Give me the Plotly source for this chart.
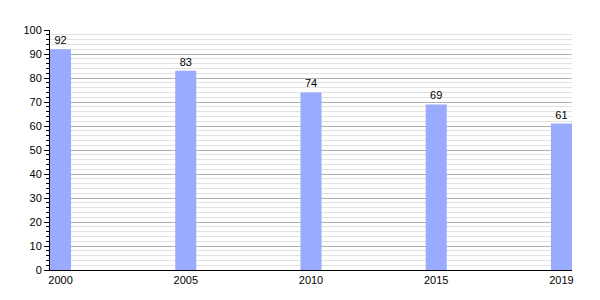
import plotly.graph_objects as go

years = ["2000", "2005", "2010", "2015", "2019"]
values = [92, 83, 74, 69, 61]

fig = go.Figure()
fig.add_trace(go.Bar(
    x=years, y=values, width=0.168,
    marker=dict(color="#99aaff", line=dict(width=0)),
    text=[str(v) for v in values], textposition="outside",
    textfont=dict(family="Liberation Sans, Arial", size=11, color="#000"),
    cliponaxis=False,
))
fig.update_layout(
    width=600, height=300,
    margin=dict(l=50, r=28, t=30, b=30),
    paper_bgcolor="white", plot_bgcolor="white",
    showlegend=False,
    font=dict(family="Liberation Sans, Arial", size=11, color="#000"),
    xaxis=dict(type="category", range=[-0.084, 4.084], showgrid=False,
               showline=True, linecolor="#000", linewidth=1,
               ticks="", tickfont=dict(size=11)),
    yaxis=dict(range=[0, 100], dtick=10, showgrid=True, gridcolor="#b0b0b0",
               gridwidth=1, showline=True, linecolor="#000", linewidth=1,
               ticks="outside", ticklen=5, tickcolor="#000", zeroline=False,
               tickfont=dict(size=11),
               minor=dict(dtick=2, showgrid=True, gridcolor="#e2e2e2",
                          ticks="outside", ticklen=3, tickcolor="#000")),
)
fig.write_html("out.html")
